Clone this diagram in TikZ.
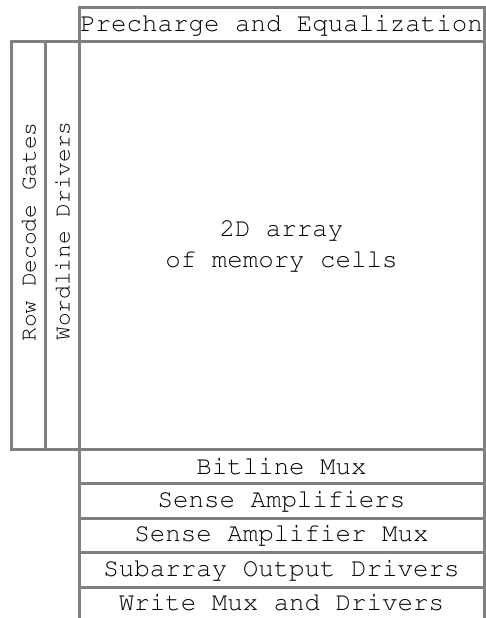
\documentclass[tikz,border=0pt]{standalone}
\usepackage[T1]{fontenc}
\usepackage{courier}
\definecolor{linegray}{RGB}{128,128,128}
\begin{document}
\begin{tikzpicture}[x=1pt,y=-1pt,
  blk/.style={draw=linegray, line width=3pt, rectangle, inner sep=0pt, outer sep=0pt, align=center,
    font=\ttfamily\fontsize{25.8}{31.5}\selectfont},
  vtxt/.style={rotate=90, inner sep=0pt, font=\ttfamily\fontsize{22.8}{28}\selectfont},
  hblk/.style={blk, minimum width=405pt, minimum height=34.5pt},
  edge/.style={draw=linegray, line width=3pt, line cap=rect}]
\useasboundingbox (0,0) rectangle (486,618);
\node[blk, minimum width=405pt, minimum height=34pt] (pre) at (281.5,25) {Precharge and Equalization};
\node[blk, minimum width=33.5pt, minimum height=407pt] (row) at (28.25,245.5) {};
\node[blk, minimum width=34pt, minimum height=407pt] (wl) at (62,245.5) {};
\node[vtxt] (rowtxt) at (28.5,232) {Row Decode Gates};
\node[vtxt] (wltxt) at (62.5,231) {Wordline Drivers};
\node[blk, minimum width=405pt, minimum height=407pt] (arr) at (281.5,245.5) {2D array\\of memory cells};
\node[hblk] (bm) at (281.5,466.25) {Bitline Mux};
\node[hblk] (sa) at (281.5,500.75) {Sense Amplifiers};
\node[hblk] (sam) at (281.5,535.25) {Sense Amplifier Mux};
\node[hblk] (sod) at (281.5,569.75) {Subarray Output Drivers};
\node[hblk, draw=none, minimum height=31pt] (wmd) at (281.5,602.5) {Write Mux and Drivers};
\draw[edge] (wmd.south west) -- (sod.south west);
\draw[edge] (wmd.south east) -- (sod.south east);
\end{tikzpicture}
\end{document}
